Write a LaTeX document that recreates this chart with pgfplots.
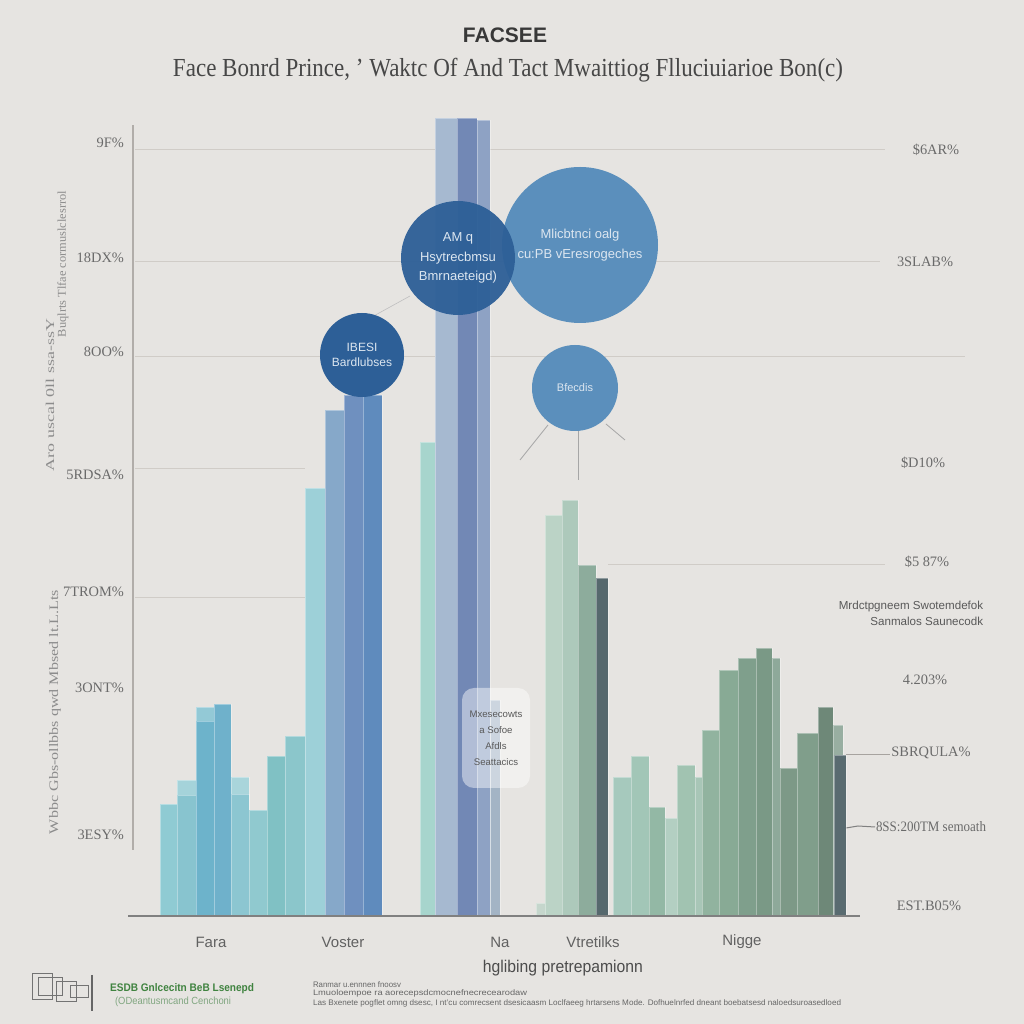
\documentclass[border=0pt]{standalone}
\usepackage{fontspec}
\setmainfont{Liberation Serif}
\setsansfont{Liberation Sans}
\usepackage{graphicx}
\usepackage{pgfplots}
\pgfplotsset{compat=1.18}
\definecolor{bg}{HTML}{E6E4E1}
\definecolor{gridc}{HTML}{D0CCC7}
\definecolor{tickc}{HTML}{6A6A6A}
\definecolor{dblue}{HTML}{2D5F97}
\definecolor{mblue}{HTML}{5B8FBC}
\definecolor{btext}{HTML}{DCE6F0}
\newcommand{\B}[4]{\xglobal\definecolor{c#1x#2x#3}{HTML}{#4}\addplot[ybar interval, fill=c#1x#2x#3, draw=white, draw opacity=0.35, line width=0.3pt] coordinates {(#1,#3) (#2,#3)};}
\newcommand{\fs}[2]{\fontsize{#1}{#2}\selectfont}
\begin{document}
\begin{tikzpicture}
\fill[bg] (0,0) rectangle (512pt,512pt);
\begin{axis}[
  at={(0,0)}, anchor=south west,
  width=512pt, height=512pt, scale only axis,
  xmin=0, xmax=1024, ymin=-108, ymax=916,
  hide axis, clip=false,
]
% grid lines
\addplot[gridc, line width=0.5pt] coordinates {(135,766) (885,766)};
\addplot[gridc, line width=0.5pt] coordinates {(135,654) (880,654)};
\addplot[gridc, line width=0.5pt] coordinates {(135,559) (965,559)};
\addplot[gridc, line width=0.5pt] coordinates {(135,447) (305,447)};
\addplot[gridc, line width=0.5pt] coordinates {(135,318) (305,318)};
\addplot[gridc, line width=0.5pt] coordinates {(608,351) (885,351)};
\addplot[gridc!80!black, line width=0.5pt] coordinates {(846,161) (890,161)};
\addplot[gray, line width=0.5pt] coordinates {(846,88) (858,90) (875,89)};
% left vertical axis line
\addplot[gridc!85!black, line width=0.6pt] coordinates {(133,66) (133,791)};
% ---------- left group
\B{160}{177}{112}{8FCBD3}
\B{177}{196}{136}{A5D3DA}
\B{177}{196}{121}{88C4CF}
\B{196}{214}{209}{93C9D6}
\B{196}{214}{195}{6DB3CB}
\B{214}{231}{212}{6FB1CB}
\B{231}{249}{139}{A9D5DB}
\B{231}{249}{122}{8CC6D1}
\B{249}{267}{106}{90C9CF}
\B{267}{285}{160}{80C1C4}
\B{285}{305}{180}{8BC6CB}
\B{305}{325}{428}{9DD0D8}
\B{325}{344}{506}{86A8C9}
\B{344}{363}{521}{6F90BF}
\B{363}{382}{521}{5F8BBD}
% ---------- centre group
\B{420}{438}{474}{A7D5CD}
\B{490}{500}{216}{A3B4C5}
\B{435}{457}{798}{A6B9D0}
\B{457}{477}{798}{7288B5}
\B{477}{490}{796}{8EA2C4}
\B{536}{546}{13}{C5D6CC}
\B{545}{562}{401}{BBD3C6}
\B{562}{578}{416}{ADC9BB}
\B{578}{596}{351}{8DAC9C}
\B{596}{608}{338}{56686D}
% ---------- right group
\B{613}{631}{139}{A6C9BD}
\B{631}{649}{160}{A2C6B7}
\B{649}{665}{109}{93B8A5}
\B{665}{677}{98}{B3CFC2}
\B{677}{695}{151}{A1C3B1}
\B{695}{702}{139}{A8C6B7}
\B{702}{719}{186}{91B39F}
\B{719}{738}{246}{88AA95}
\B{738}{756}{258}{7F9F8C}
\B{756}{772}{268}{7A9986}
\B{772}{780}{258}{8EA99A}
\B{780}{797}{148}{7D9987}
\B{797}{818}{183}{809E8B}
\B{818}{833}{209}{6E8878}
\B{833}{843}{191}{98AEA1}
\B{834}{846}{161}{596B70}
% baseline
\addplot[gray, line width=0.8pt] coordinates {(128,0) (860,0)};
% connector lines
\addplot[gray!70, line width=0.4pt] coordinates {(548,491) (520,456)};
\addplot[gray!70, line width=0.4pt] coordinates {(578,485) (578,436)};
\addplot[gray!70, line width=0.4pt] coordinates {(606,492) (625,476)};
\addplot[gray!50, line width=0.3pt] coordinates {(410,620) (370,598)};
% bubbles
\node[circle, fill=mblue, minimum size=78pt, inner sep=0pt, text=btext, align=center, font=\sffamily\fs{6.5}{10}] at (axis cs:580,671) {Mlicbtnci oalg\\cu:PB vEresrogeches};
\node[circle, fill=dblue, fill opacity=0.95, text opacity=1, minimum size=57pt, inner sep=0pt, text=btext, align=center, font=\sffamily\fs{6.5}{9.7}] at (axis cs:458,658) {AM q\\Hsytrecbmsu\\Bmrnaeteigd)};
\node[circle, fill=dblue, minimum size=42pt, inner sep=0pt, text=btext, align=center, font=\sffamily\fs{6}{7.5}] at (axis cs:362,561) {IBESI\\Bardlubses};
\node[circle, fill=mblue, minimum size=43pt, inner sep=0pt, text=btext, align=center, font=\sffamily\fs{5.5}{7}] at (axis cs:575,528) {Bfecdis};
% translucent note box
\node[rounded corners=6pt, fill=white, fill opacity=0.45, text opacity=1, minimum width=34pt, minimum height=50pt, inner sep=1pt, align=center, text=black!65, font=\sffamily\fs{4.8}{8}] at (axis cs:496,178) {Mxesecowts\\a Sofoe\\Afdls\\Seattacics};
% titles
\node[font=\sffamily\bfseries\fs{10.5}{12}, text=black!78] at (axis cs:505,881) {FACSEE};
\node[font=\fs{13}{15}, text=black!72] at (axis cs:508,846) {\resizebox{335pt}{\height}{Face Bonrd Prince, ' Waktc Of And Tact Mwaittiog Flluciuiarioe Bon(c)}};
% left tick labels
\begin{scope}[every node/.style={anchor=east, font=\fs{7.2}{9}, text=tickc}]
\node at (axis cs:131,773) {9F\%};
\node at (axis cs:131,658) {18DX\%};
\node at (axis cs:131,564) {8OO\%};
\node at (axis cs:131,441) {5RDSA\%};
\node at (axis cs:131,324) {7TROM\%};
\node at (axis cs:131,228) {3ONT\%};
\node at (axis cs:131,81) {3ESY\%};
\end{scope}
% right labels
\begin{scope}[every node/.style={font=\fs{7.2}{9}, text=tickc}]
\node at (axis cs:936,766) {\$6AR\%};
\node at (axis cs:925,654) {3SLAB\%};
\node at (axis cs:923,453) {\$D10\%};
\node at (axis cs:927,354) {\$5 87\%};
\node at (axis cs:925,236) {4.203\%};
\node at (axis cs:931,163) {SBRQULA\%};
\node at (axis cs:931,89) {\resizebox{55pt}{\height}{8SS:200TM semoath}};
\node at (axis cs:929,10) {EST.B05\%};
\end{scope}
\node[font=\sffamily\fs{5.8}{8}, text=black!65, align=right] at (axis cs:911,303) {Mrdctpgneem Swotemdefok\\Sanmalos Saunecodk};
% rotated left labels
\node[rotate=90, font=\fs{6}{7}, text=black!45] at (axis cs:50,521) {\resizebox{76pt}{\height}{Aro uscal 0ll ssa-ssY}};
\node[rotate=90, font=\fs{6}{7}, text=black!45] at (axis cs:63,652) {\resizebox{73pt}{\height}{Buqlrts Tlfae cormuslclesrrol}};
\node[rotate=90, font=\fs{6.5}{7}, text=black!45] at (axis cs:55,204) {\resizebox{122pt}{\height}{Wbbc Gbs-ollbbs qwd Mbsed lt.L.Lts}};
% category labels
\begin{scope}[every node/.style={font=\sffamily\fs{7.5}{9}, text=black!62}]
\node at (axis cs:211,-26) {Fara};
\node at (axis cs:343,-26) {Voster};
\node at (axis cs:500,-26) {Na};
\node at (axis cs:593,-26) {Vtretilks};
\node at (axis cs:742,-26) {Nigge};
\end{scope}
\node[font=\sffamily\fs{8.5}{10}, text=black!70] at (axis cs:563,-52) {\resizebox{80pt}{\height}{hglibing pretrepamionn}};
% bottom left logo and text
\draw[black!55, line width=0.5pt] (axis cs:32,-84) rectangle (axis cs:52,-58);
\draw[black!55, line width=0.5pt] (axis cs:38,-80) rectangle (axis cs:62,-62);
\draw[black!55, line width=0.5pt] (axis cs:56,-86) rectangle (axis cs:76,-66);
\draw[black!55, line width=0.5pt] (axis cs:70,-82) rectangle (axis cs:88,-70);
\draw[black!60, line width=0.7pt] (axis cs:92,-59) -- (axis cs:92,-95);
\node[anchor=west, font=\sffamily\bfseries\fs{5.5}{7}, text=green!35!black!75!white] at (axis cs:103,-73) {\resizebox{72pt}{\height}{ESDB Gnlcecitn BeB Lsenepd}};
\node[anchor=west, font=\sffamily\fs{5.2}{7}, text=green!30!black!50!white] at (axis cs:108,-86) {\resizebox{58pt}{\height}{(ODeantusmcand Cenchoni}};
% footnotes
\node[anchor=west, font=\sffamily\fs{4}{5}, text=black!60] at (axis cs:306,-69) {\resizebox{44pt}{\height}{Ranmar u.ennnen fnoosv}};
\node[anchor=west, font=\sffamily\fs{4}{5}, text=black!60] at (axis cs:306,-77) {\resizebox{107pt}{\height}{Lmuoloempoe ra aorecepsdcmocnefnecrecearodaw}};
\node[anchor=west, font=\sffamily\fs{4}{5}, text=black!60] at (axis cs:306,-87) {\resizebox{264pt}{\height}{Las Bxenete pogflet omng dsesc, I nt'cu comrecsent dsesicaasm Loclfaeeg hrtarsens Mode. Dofhuelnrfed dneant boebatsesd naloedsuroasedloed}};
\end{axis}
\end{tikzpicture}
\end{document}
